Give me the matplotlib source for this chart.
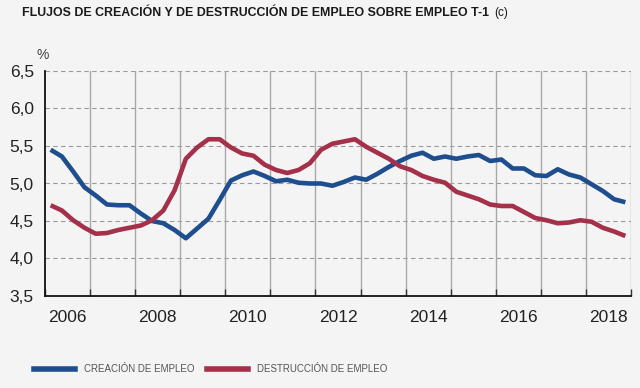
import matplotlib
matplotlib.use("Agg")
import matplotlib.pyplot as plt
from matplotlib.lines import Line2D
import numpy as np

start_year = 2006
end_year = 2019
creacion = [5.45, 5.36, 5.16, 4.95, 4.84, 4.72, 4.71, 4.71, 4.60, 4.50, 4.47, 4.38,
            4.27, 4.40, 4.53, 4.78, 5.04, 5.11, 5.16, 5.10, 5.03, 5.05, 5.01, 5.00,
            5.00, 4.97, 5.02, 5.08, 5.05, 5.13, 5.22, 5.30, 5.37, 5.41, 5.33, 5.36,
            5.33, 5.36, 5.38, 5.30, 5.32, 5.20, 5.20, 5.11, 5.10, 5.19, 5.12, 5.08,
            4.99, 4.90, 4.79, 4.75]
destruccion = [4.71, 4.64, 4.51, 4.41, 4.33, 4.34, 4.38, 4.41, 4.44, 4.51, 4.64, 4.91,
               5.33, 5.48, 5.59, 5.59, 5.48, 5.40, 5.37, 5.25, 5.18, 5.14, 5.18, 5.27,
               5.45, 5.53, 5.56, 5.59, 5.49, 5.41, 5.33, 5.23, 5.18, 5.10, 5.05, 5.01,
               4.89, 4.84, 4.79, 4.72, 4.70, 4.70, 4.62, 4.54, 4.51, 4.47, 4.48, 4.51,
               4.49, 4.41, 4.36, 4.30]
year_labels = ["2006", "2008", "2010", "2012", "2014", "2016", "2018"]
y_ticks = [3.5, 4.0, 4.5, 5.0, 5.5, 6.0, 6.5]
y_labels = ["3,5", "4,0", "4,5", "5,0", "5,5", "6,0", "6,5"]
title = "FLUJOS DE CREACIÓN Y DE DESTRUCCIÓN DE EMPLEO SOBRE EMPLEO T-1"
series_names = ["CREACIÓN DE EMPLEO", "DESTRUCCIÓN DE EMPLEO"]

BLUE = "#1f4e8e"
RED = "#a5304a"
BG = "#f4f4f4"
FONT = "Liberation Sans"

n = len(creacion)
x = start_year + (np.arange(n) + 0.5) / 4.0

fig = plt.figure(figsize=(6.4, 3.88), dpi=100)
fig.patch.set_facecolor(BG)
ax = fig.add_axes([45/640, 1-296/388, (631-45)/640, (296-71)/388])
ax.set_facecolor(BG)

ax.plot(x, creacion, color=BLUE, lw=3.3, solid_capstyle="butt", zorder=3)
ax.plot(x, destruccion, color=RED, lw=3.3, solid_capstyle="butt", zorder=3)

ax.set_xlim(start_year, end_year)
ax.set_ylim(3.5, 6.5)

ax.set_yticks(y_ticks)
ax.set_yticklabels(y_labels, fontsize=12.5, family=FONT, color="#222222")
ax.set_xticks(np.arange(start_year, end_year + 1))
ax.set_xticklabels([])
ax.set_xticks([int(y) + 0.5 for y in year_labels], minor=True)
ax.set_xticklabels(year_labels, minor=True, fontsize=12.5, family=FONT, color="#222222")
ax.tick_params(axis="x", which="major", direction="in", length=5, width=1, color="#333333")
ax.tick_params(axis="x", which="minor", length=0, pad=10)
ax.tick_params(axis="y", length=0, pad=8)

for yv in y_ticks[1:]:
    ax.axhline(yv, color="#9a9a9a", lw=0.8, ls=(0, (4, 3)), zorder=1)
for xv in range(start_year + 1, end_year + 1):
    ax.axvline(xv, color="#a8a8a8", lw=1.0, zorder=1)

for s in ["top", "right"]:
    ax.spines[s].set_visible(False)
ax.spines["left"].set_color("#111111")
ax.spines["left"].set_linewidth(1.3)
ax.spines["bottom"].set_color("#111111")
ax.spines["bottom"].set_linewidth(1.3)

t = fig.text(22/640, 1-13/388, title, fontsize=8.9, fontweight="bold",
             family=FONT, color="#1a1a1a", va="center", ha="left")
ax.annotate("(c)", xy=(1, 0.5), xycoords=t, xytext=(4, 0), textcoords="offset points",
            fontsize=8.5, family=FONT, color="#1a1a1a", va="center", ha="left",
            annotation_clip=False)
fig.text(43/640, 1-55/388, "%", fontsize=10, family=FONT, color="#444444", va="center", ha="center")

colors = [BLUE, RED]
anchors = [34/640, 207/640]
for name, col, xa in zip(series_names, colors, anchors):
    leg = fig.legend([Line2D([], [], color=col, lw=4)], [name], loc="center left",
                     bbox_to_anchor=(xa, 1-369/388), frameon=False, borderaxespad=0,
                     borderpad=0, handlelength=4.2, handletextpad=0.9,
                     prop={"family": FONT, "size": 7})
    for tx in leg.get_texts():
        tx.set_color("#555555")

fig.savefig("out.png", dpi=100, facecolor=BG)
